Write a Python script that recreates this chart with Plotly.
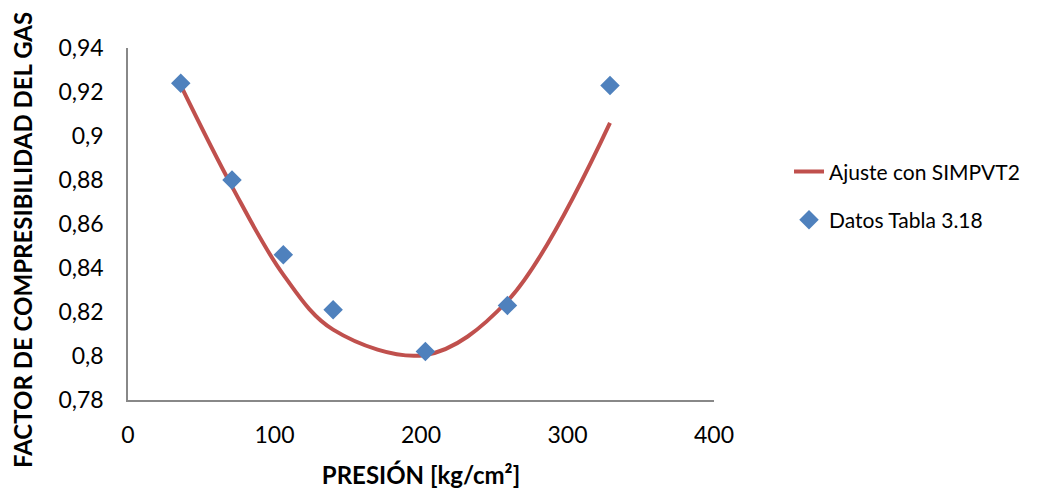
import plotly.graph_objects as go

# Data
presion_datos = [36, 71, 106, 140, 203, 259, 329]
z_datos = [0.924, 0.880, 0.846, 0.821, 0.802, 0.823, 0.923]

presion_ajuste = [36, 71, 106, 140, 203, 259, 329]
z_ajuste = [0.923, 0.877, 0.837, 0.812, 0.8005, 0.825, 0.906]

y_tickvals = [0.78, 0.80, 0.82, 0.84, 0.86, 0.88, 0.90, 0.92, 0.94]
y_ticktext = ["0,78", "0,8", "0,82", "0,84", "0,86", "0,88", "0,9", "0,92", "0,94"]
x_tickvals = [0, 100, 200, 300, 400]
x_ticktext = ["0", "100", "200", "300", "400"]

FONT = "Lato, 'Open Sans', sans-serif"

fig = go.Figure()
fig.add_trace(go.Scatter(
    x=presion_ajuste, y=z_ajuste, mode="lines",
    line=dict(color="#C0504D", width=4, shape="spline", smoothing=1.0),
    name="Ajuste con SIMPVT2", legendgroup="a",
))
fig.add_trace(go.Scatter(
    x=presion_datos, y=z_datos, mode="markers",
    marker=dict(symbol="diamond", color="#4F81BD", size=15, line=dict(width=0)),
    name="Datos Tabla 3.18", legendgroup="b",
))

fig.update_layout(
    width=1052, height=491,
    margin=dict(l=128, r=338, t=48, b=91, autoexpand=False),
    paper_bgcolor="white", plot_bgcolor="white",
    font=dict(family=FONT, size=21, color="black"),
    showlegend=True,
    legend=dict(x=1.128, xanchor="left", y=0.58, yanchor="middle",
                traceorder="grouped", tracegroupgap=18,
                font=dict(family=FONT, size=21, color="black"),
                bgcolor="rgba(0,0,0,0)"),
    xaxis=dict(range=[0, 400], tickvals=x_tickvals, ticktext=x_ticktext,
               showgrid=False, zeroline=False, showline=True,
               linecolor="#888888", linewidth=1.5, ticks="",
               ticklabelstandoff=14, automargin=False,
               tickfont=dict(family=FONT, size=23),
               title=dict(text="<b>PRESIÓN [kg/cm²]</b>", font=dict(family=FONT, size=24), standoff=20)),
    yaxis=dict(range=[0.78, 0.94], tickvals=y_tickvals, ticktext=y_ticktext,
               showgrid=False, zeroline=False, showline=True,
               linecolor="#888888", linewidth=1.5, ticks="",
               ticklabelstandoff=18, automargin=False,
               tickfont=dict(family=FONT, size=23)),
    annotations=[dict(
        text="<b>FACTOR DE COMPRESIBILIDAD DEL GAS</b>",
        xref="paper", yref="paper", x=-0.181, y=0.4545,
        xanchor="center", yanchor="middle", textangle=-90, showarrow=False,
        font=dict(family=FONT, size=24, color="black"),
    )],
)

fig.write_html("out.html")
